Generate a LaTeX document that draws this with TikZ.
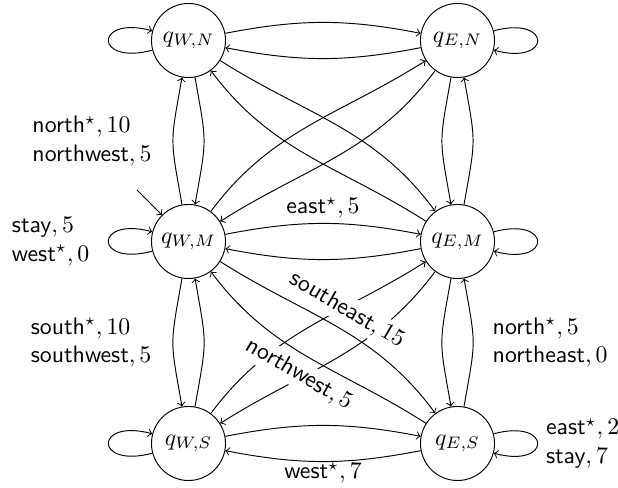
\documentclass[tikz,border=0pt]{standalone}
\usetikzlibrary{calc}
\begin{document}
\begin{tikzpicture}[x=0.42pt,y=0.42pt,>=to,
  st/.style={circle,draw,minimum size=31.1pt,inner sep=0pt},
  lbl/.style={font=\sffamily,align=left},
  slbl/.style={font=\sffamily,sloped,fill=white,inner sep=1.5pt},
  vert/.style={looseness=1.4},
  every loop/.style={}]
\useasboundingbox (0,0) rectangle (618,488);

% states
\node[st] (WN) at (188.5,447.5) {$q_{W,N}$};
\node[st] (EN) at (457.5,447.5) {$q_{E,N}$};
\node[st] (WM) at (188.5,246.5) {$q_{W,M}$};
\node[st] (EM) at (457.5,246.5) {$q_{E,M}$};
\node[st] (WS) at (188.5,44.5) {$q_{W,S}$};
\node[st] (ES) at (457.5,44.5) {$q_{E,S}$};

% initial arrow
\coordinate (start) at ($(WM)+(135:73)$);
\draw[->] (start) -- (WM);

% self loops
\draw[->] (WN) to[loop left] (WN);
\draw[->] (EN) to[loop right] (EN);
\draw[->] (WM) to[loop left] node[lbl,left=4.5pt] {\textsf{stay}$, 5$\\\textsf{west}$^{\star}, 0$} (WM);
\draw[->] (EM) to[loop right] (EM);
\draw[->] (WS) to[loop left] (WS);
\draw[->] (ES) to[loop right] node[lbl,right=0pt] {\textsf{east}$^{\star}, 2$\\\textsf{stay}$, 7$} (ES);

% horizontal moves
\draw[->] (WN) to[bend left=11] (EN);
\draw[->] (EN) to[bend left=11] (WN);
\draw[->] (WM) to[bend left=11] node[lbl,above=-1.5pt] {\textsf{east}$^{\star}, 5$} (EM);
\draw[->] (EM) to[bend left=11] (WM);
\draw[->] (WS) to[bend left=11] (ES);
\draw[->] (ES) to[bend left=11] node[lbl,below=-3.2pt] {\textsf{west}$^{\star}, 7$} (WS);

% vertical moves, west column
\draw[->] (WN) to[bend left=10,vert] (WM);
\draw[->] (WM) to[bend left=10,vert] node[lbl,left=5.5pt] {\textsf{north}$^{\star}, 10$\\\textsf{northwest}$, 5$} (WN);
\draw[->] (WM) to[bend right=10,vert] node[lbl,left=5.5pt] {\textsf{south}$^{\star}, 10$\\\textsf{southwest}$, 5$} (WS);
\draw[->] (WS) to[bend right=10,vert] (WM);

% vertical moves, east column
\draw[->] (EN) to[bend right=10,vert] (EM);
\draw[->] (EM) to[bend right=10,vert] (EN);
\draw[->] (EM) to[bend right=10,vert] (ES);
\draw[->] (ES) to[bend right=10,vert] node[lbl,right=4.7pt] {\textsf{north}$^{\star}, 5$\\\textsf{northeast}$, 0$} (EM);

% diagonal moves, upper half
\draw[->] (WN) to[out=-32.5,in=126.5] (EM);
\draw[->] (EM) to[out=147.5,in=-53.5] (WN);
\draw[->] (WM) to[out=53.5,in=212.5] (EN);
\draw[->] (EN) to[out=233.5,in=32.5] (WM);

% diagonal moves, lower half
\draw[->] (WS) to[out=53.5,in=212.5] (EM);
\draw[->] (EM) to[out=233.5,in=32.5] (WS);
\draw[->] (WM) to[out=-32.5,in=126.5] node[slbl,above=2pt] {southeast$, 15$} (ES);
\draw[->] (ES) to[out=147.5,in=-53.5] node[slbl,below=2pt] {northwest$, 5$} (WM);
\end{tikzpicture}
\end{document}
